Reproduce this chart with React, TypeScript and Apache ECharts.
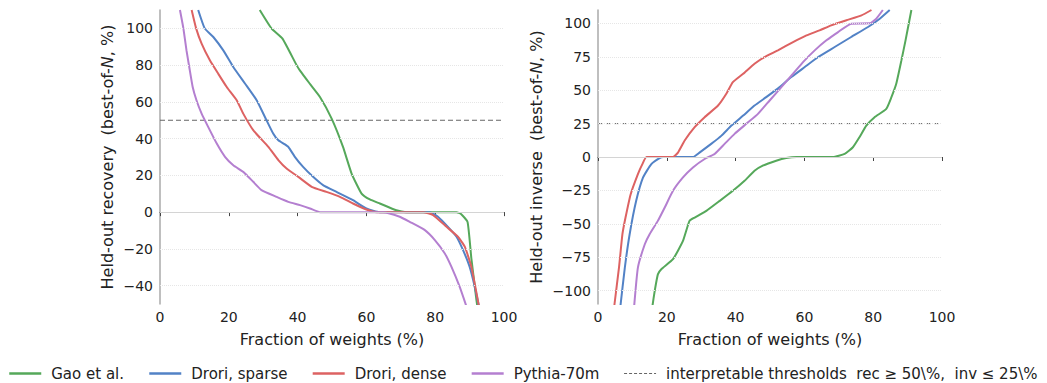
import React, { useEffect, useRef } from "react";
import * as echarts from "echarts";

// ---- data ----
const xTicks = [0, 20, 40, 60, 80, 100];
const recTicks = [-40, -20, 0, 20, 40, 60, 80, 100];
const invTicks = [-100, -75, -50, -25, 0, 25, 50, 75, 100];
const recThreshold = 50;
const invThreshold = 25;

// Held-out recovery (left panel): [fraction %, recovery %]
const gaoRec = [[29, 110], [32.4, 100], [35.6, 94.4], [39.7, 80], [40.7, 77], [43.5, 70], [46.5, 62.7], [49.9, 50.9], [53.2, 35.5], [55.7, 21], [58.6, 10.1], [61, 6.9], [63.9, 4.7], [68.7, 1], [71.6, 0], [86.2, 0], [87.5, -1], [89.4, -5.3], [90.5, -25], [92, -48], [92.3, -52]];
const sparseRec = [[11.1, 110], [13, 100], [15.5, 95.3], [18.4, 88], [21.3, 79], [24.7, 70], [28.1, 60.9], [30.5, 51.8], [32.9, 42.8], [34.4, 39.1], [36.2, 37], [37.3, 35.5], [39.2, 30.1], [41.6, 24.6], [44.5, 19.2], [47.4, 14.7], [51.3, 11], [56.1, 6.5], [60, 2], [63.9, 0], [78.4, 0], [80.8, -2.5], [83.7, -8], [86.2, -13.4], [88.1, -20.7], [90, -29.7], [91.5, -40.6], [92.8, -52]];
const denseRec = [[9.2, 110], [10.5, 100], [12.1, 91.7], [14.5, 82.6], [16.9, 75.4], [19.4, 68.1], [22.3, 60.9], [24.2, 53.6], [27.1, 44.6], [31.5, 35.5], [34.4, 28.3], [36.8, 23.7], [40.2, 19.2], [44.1, 13.8], [48.4, 11], [52.3, 8.3], [56.1, 4.7], [60, 1.4], [63, 0], [76.5, 0], [79.4, -1.6], [83.3, -8], [86.6, -13.4], [88.6, -18.8], [90.5, -29.7], [92.8, -52]];
const pythiaRec = [[5.8, 110], [6.8, 100], [7.7, 88], [8.5, 79], [9.5, 68.1], [10.6, 60.9], [12.1, 53.6], [14, 46.4], [16.5, 37.3], [18.9, 30.1], [21.3, 25.5], [24.2, 21.9], [27.1, 16.5], [29.5, 12], [33.9, 8.3], [37.3, 5.6], [40.7, 3.8], [43.6, 2], [46.5, 0], [64.9, 0], [69.7, -2.5], [72.6, -5.3], [77, -9.8], [79.9, -15.2], [82.8, -22.5], [84.7, -29.7], [87.1, -40.6], [89.2, -52]];

// Held-out inverse (right panel): [fraction %, inverse %]
const gaoInv = [[15.8, -112], [16.5, -100], [17.4, -87.8], [18.4, -84], [21.8, -76.5], [24.7, -62.8], [26.6, -47.8], [28.1, -45.3], [31.5, -40.3], [35.4, -32.8], [39.2, -25.3], [42.6, -17.8], [45.5, -10.3], [47.9, -6.5], [51.8, -2.8], [54.7, -0.8], [57.7, 0], [68.3, 0], [71.7, 2.3], [74.1, 7.3], [76, 14.8], [78, 23.5], [80.4, 29.8], [83.8, 36], [85.3, 44.8], [86.7, 54.8], [88.2, 72.3], [89.4, 87.3], [91.1, 110]];
const sparseInv = [[6.5, -112], [7.8, -82.8], [9.2, -57.8], [11.1, -32.8], [13.1, -15.3], [15.5, -5.3], [17.9, -0.8], [19, 0], [27.6, 0], [29.6, 3.5], [32.9, 9.8], [35.9, 16], [38.8, 23.5], [42.2, 31], [45.5, 38.5], [48.9, 44.8], [52.8, 52.3], [56.2, 59.8], [60.1, 67.3], [64, 74.8], [68.8, 82.3], [73.6, 89.8], [78.5, 97.3], [81.9, 103.5], [84.8, 110]];
const denseInv = [[4.7, -115], [4.8, -110], [6.1, -82.8], [7.1, -57.8], [8, -45.3], [9.5, -27.8], [11.6, -12.8], [12.9, -5.3], [14.1, 0], [21.8, 0], [23.3, 3.5], [25.2, 12.3], [28.1, 22.3], [31, 29.8], [34.9, 38.5], [37.3, 47.3], [39.2, 56], [42.2, 62.3], [45.5, 69.8], [48.4, 74.8], [52.3, 79.8], [56.7, 86], [60.6, 91], [64.4, 94.8], [67.8, 98.5], [72.2, 102.3], [76.6, 106], [79.5, 110]];
const pythiaInv = [[10.5, -112], [11.6, -82.8], [13.6, -65.3], [15, -57.8], [17.4, -47.8], [19.4, -37.8], [21.8, -25.3], [24.7, -15.3], [27.6, -7.8], [31, -1.5], [33.9, 2.3], [36.8, 9.8], [39.7, 17.3], [43.1, 24.8], [46.5, 32.3], [49.9, 42.3], [53.3, 52.3], [56.7, 62.3], [59.6, 71], [63, 79.8], [66.4, 87.3], [69.8, 93.5], [73.6, 99.8], [79, 100], [80.9, 103.5], [82.8, 110]];

const names = ["Gao et al.", "Drori, sparse", "Drori, dense", "Pythia-70m"];
const colors = ["#55a85a", "#5282c6", "#dd6262", "#b47fd0"];
const thrName = "interpretable thresholds\u00a0\u00a0rec \u2265 50\\%,\u00a0\u00a0inv \u2264 25\\%";

const FONT = "DejaVu Sans";
const fmt = (v: number) => String(v).replace("-", "\u2212");

export default function App() {
  const ref = useRef<HTMLDivElement>(null);
  useEffect(() => {
    if (!ref.current) return;
    const chart = echarts.init(ref.current, undefined, { renderer: "svg" });
    const recSets = [gaoRec, sparseRec, denseRec, pythiaRec];
    const invSets = [gaoInv, sparseInv, denseInv, pythiaInv];

    const xAxisBase = (gi: number) => ({
      type: "value",
      gridIndex: gi,
      min: xTicks[0],
      max: xTicks[xTicks.length - 1],
      interval: 20,
      name: "Fraction of weights (%)",
      nameLocation: "middle",
      nameGap: 27,
      nameTextStyle: { fontFamily: FONT, fontSize: 16, color: "#222" },
      axisLine: { show: true, lineStyle: { color: "#444", width: 1 } },
      axisTick: { show: true, length: 4, lineStyle: { color: "#444" } },
      axisLabel: { fontFamily: FONT, fontSize: 14, color: "#222", margin: 6, formatter: fmt },
      splitLine: { show: false },
    });
    const yAxisBase = (gi: number, min: number, max: number, ticks: number[], name: string, gap: number) => ({
      type: "value",
      gridIndex: gi,
      min,
      max,
      name,
      nameLocation: "middle",
      nameGap: gap,
      nameTextStyle: {
        fontFamily: FONT,
        fontSize: 16,
        color: "#222",
        rich: { it: { fontFamily: FONT, fontSize: 16, fontStyle: "italic", color: "#222" } },
      },
      axisLine: { show: true, lineStyle: { color: "#aaa", width: 1.5 } },
      axisTick: { show: false, customValues: ticks },
      axisLabel: { fontFamily: FONT, fontSize: 14, color: "#222", margin: 7, formatter: fmt, customValues: ticks },
      splitLine: { show: false },
    });

    const gridSeries = (gi: number, ticks: number[]) => ({
      name: "_grid" + gi,
      type: "line",
      xAxisIndex: gi,
      yAxisIndex: gi,
      data: [],
      silent: true,
      z: 1,
      markLine: {
        silent: true,
        symbol: "none",
        label: { show: false },
        animation: false,
        data: ticks.map((t) => ({
          yAxis: t,
          lineStyle: t === 0 ? { type: "solid", color: "#d4d4d4", width: 1 } : { type: "dotted", color: "#e6e6e6", width: 1 },
        })),
      },
    });

    const lineSeries = (gi: number, sets: number[][][]) =>
      sets.map((d, i) => ({
        name: names[i],
        type: "line",
        xAxisIndex: gi,
        yAxisIndex: gi,
        data: d,
        symbol: "none",
        smooth: 0.15,
        clip: true,
        z: 3,
        lineStyle: { color: colors[i], width: 2 },
        itemStyle: { color: colors[i] },
      }));

    const thrSeries = (gi: number, v: number) => ({
      name: thrName,
      type: "line",
      xAxisIndex: gi,
      yAxisIndex: gi,
      data: [[0, v], [100, v]],
      symbol: "none",
      z: 2,
      lineStyle: { color: "#666", width: 1, type: [5, 3] },
      itemStyle: { color: "#666" },
    });

    chart.setOption({
      animation: false,
      backgroundColor: "#fff",
      textStyle: { fontFamily: FONT },
      grid: [
        { left: 160, top: 10, width: 344, height: 294 },
        { left: 598, top: 10, width: 344, height: 294 },
      ],
      xAxis: [xAxisBase(0), xAxisBase(1)],
      yAxis: [
        yAxisBase(0, -50, 110, recTicks, "Held-out recovery  (best-of-{it|N}, %)", 45),
        yAxisBase(1, -110, 110, invTicks, "Held-out inverse  (best-of-{it|N}, %)", 54),
      ],
      legend: {
        data: [
          ...names.map((n, i) => ({ name: n, lineStyle: { color: colors[i], width: 2.5 } })),
          { name: thrName, lineStyle: { color: "#666", width: 1.2, type: [3, 2] } },
        ],
        left: 8,
        top: 366,
        width: 1200,
        padding: 0,
        itemWidth: 32,
        itemHeight: 14,
        itemGap: 24,
        itemStyle: { opacity: 0, borderWidth: 0 },
        textStyle: { fontFamily: FONT, fontSize: 15, color: "#222", padding: [0, 0, 0, 5] },
      },
      series: [
        gridSeries(0, recTicks),
        gridSeries(1, invTicks),
        thrSeries(0, recThreshold),
        thrSeries(1, invThreshold),
        ...lineSeries(0, recSets),
        ...lineSeries(1, invSets),
      ],
    });
    return () => chart.dispose();
  }, []);
  return (
    <div
      ref={ref}
      style={{ position: "fixed", left: 0, top: 0, width: 1047, height: 383, background: "#fff" }}
    />
  );
}
